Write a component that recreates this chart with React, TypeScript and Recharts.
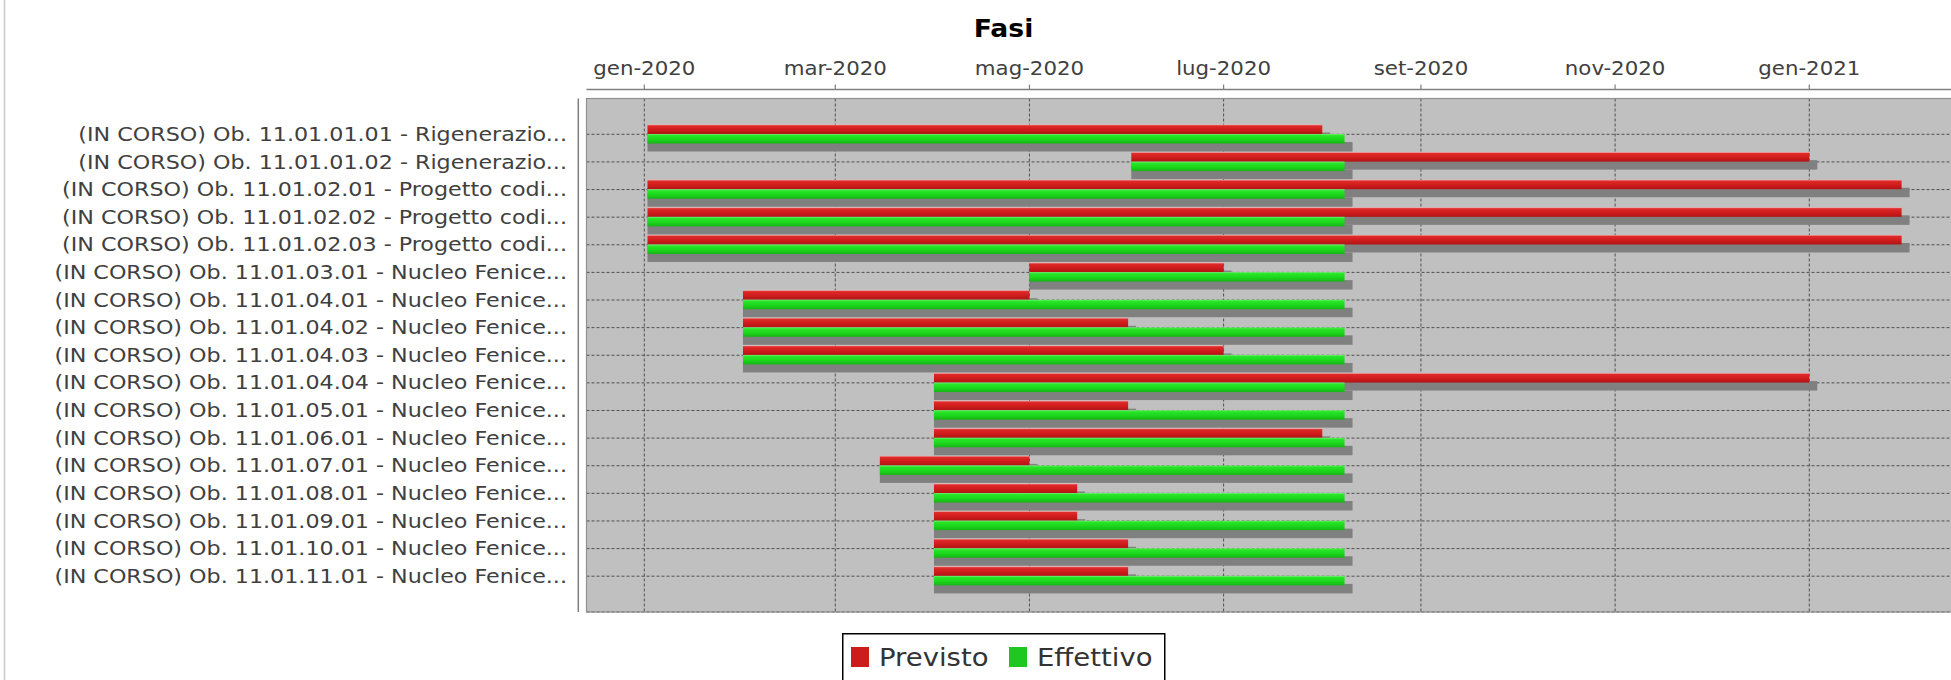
import React from 'react';
import { BarChart, Bar, XAxis, YAxis, CartesianGrid, Legend } from 'recharts';

const categories = [
  '(IN CORSO) Ob. 11.01.01.01 - Rigenerazio...',
  '(IN CORSO) Ob. 11.01.01.02 - Rigenerazio...',
  '(IN CORSO) Ob. 11.01.02.01 - Progetto codi...',
  '(IN CORSO) Ob. 11.01.02.02 - Progetto codi...',
  '(IN CORSO) Ob. 11.01.02.03 - Progetto codi...',
  '(IN CORSO) Ob. 11.01.03.01 - Nucleo Fenice...',
  '(IN CORSO) Ob. 11.01.04.01 - Nucleo Fenice...',
  '(IN CORSO) Ob. 11.01.04.02 - Nucleo Fenice...',
  '(IN CORSO) Ob. 11.01.04.03 - Nucleo Fenice...',
  '(IN CORSO) Ob. 11.01.04.04 - Nucleo Fenice...',
  '(IN CORSO) Ob. 11.01.05.01 - Nucleo Fenice...',
  '(IN CORSO) Ob. 11.01.06.01 - Nucleo Fenice...',
  '(IN CORSO) Ob. 11.01.07.01 - Nucleo Fenice...',
  '(IN CORSO) Ob. 11.01.08.01 - Nucleo Fenice...',
  '(IN CORSO) Ob. 11.01.09.01 - Nucleo Fenice...',
  '(IN CORSO) Ob. 11.01.10.01 - Nucleo Fenice...',
  '(IN CORSO) Ob. 11.01.11.01 - Nucleo Fenice...',
];

const previstoStart = [
  '2020-01-02', '2020-06-02', '2020-01-02', '2020-01-02', '2020-01-02', '2020-05-01',
  '2020-02-01', '2020-02-01', '2020-02-01', '2020-04-01', '2020-04-01', '2020-04-01',
  '2020-03-15', '2020-04-01', '2020-04-01', '2020-04-01', '2020-04-01',
];
const previstoEnd = [
  '2020-08-01', '2021-01-01', '2021-01-30', '2021-01-30', '2021-01-30', '2020-07-01',
  '2020-05-01', '2020-06-01', '2020-07-01', '2021-01-01', '2020-06-01', '2020-08-01',
  '2020-05-01', '2020-05-16', '2020-05-16', '2020-06-01', '2020-06-01',
];
const effettivoStart = [...previstoStart];
const effettivoEnd = [
  '2020-08-08', '2020-08-08', '2020-08-08', '2020-08-08', '2020-08-08', '2020-08-08',
  '2020-08-08', '2020-08-08', '2020-08-08', '2020-08-08', '2020-08-08', '2020-08-08',
  '2020-08-08', '2020-08-08', '2020-08-08', '2020-08-08', '2020-08-08',
];

const tickDates = ['2020-01-01', '2020-03-01', '2020-05-01', '2020-07-01', '2020-09-01', '2020-11-01', '2021-01-01'];
const tickLabels = ['gen-2020', 'mar-2020', 'mag-2020', 'lug-2020', 'set-2020', 'nov-2020', 'gen-2021'];

const seriesNames = ['Previsto', 'Effettivo'];
const seriesColors = ['#cc1c1c', '#1ec81e'];

const EPOCH = Date.UTC(2020, 0, 1);
const toDay = (s: string) => {
  const [y, m, d] = s.split('-').map(Number);
  return (Date.UTC(y, m - 1, d) - EPOCH) / 86400000;
};

const data = categories.map((name, i) => ({
  name,
  previsto: [toDay(previstoStart[i]), toDay(previstoEnd[i])],
  effettivo: [toDay(effettivoStart[i]), toDay(effettivoEnd[i])],
}));
const ticks = tickDates.map(toDay);
const tickLabelMap = new Map<number, string>(ticks.map((t, i) => [t, tickLabels[i]]));

const FONT = '"DejaVu Sans", sans-serif';
const PLOT_TOP = 98.5;
const PLOT_BOTTOM = 612;
const PLOT_LEFT = 586.5;

const makeShape = (gradId: string) => (props: any) => {
  const { x, y, width, height } = props;
  if (x == null || y == null || !width || !height) return <g />;
  return (
    <g>
      <rect x={x} y={y + 8} width={width + 8} height={height} fill="#808080" />
      <rect x={x} y={y} width={width} height={height} fill={`url(#${gradId})`} />
    </g>
  );
};

const XTick = (props: any) => {
  const { x, payload } = props;
  return (
    <g>
      <line x1={x} x2={x} y1={84.5} y2={89.5} stroke="#808080" strokeWidth={1.2} />
      <text
        transform={`translate(${x},74.5) scale(1.14,1)`}
        textAnchor="middle"
        fontFamily={FONT}
        fontSize={18.7}
        fill="#404040"
      >
        {tickLabelMap.get(payload.value) ?? ''}
      </text>
    </g>
  );
};

const YTick = (props: any) => {
  const { y, payload } = props;
  return (
    <text
      transform={`translate(567,${y + 6.6}) scale(1.17,1)`}
      textAnchor="end"
      fontFamily={FONT}
      fontSize={19}
      fill="#404040"
    >
      {payload.value}
    </text>
  );
};

const itemX = [[9, 37], [167, 195]];
const LegendContent = (props: any) => {
  const raw = props.payload && props.payload.length ? props.payload : [];
  const payload = seriesNames.map((n, i) => {
    const found = raw.find((p: any) => p.value === n);
    return { value: n, color: found ? found.color : seriesColors[i] };
  });
  return (
    <svg width={324} height={60} style={{ display: 'block' }}>
      <rect x={0.75} y={0.75} width={322} height={62} fill="#ffffff" stroke="#000000" strokeWidth={1.5} />
      {payload.map((p: any, i: number) => (
        <g key={i}>
          <rect x={itemX[i][0]} y={14} width={18} height={20} fill={p.color} />
          <text
            transform={`translate(${itemX[i][1]},33) scale(1.1,1)`}
            fontFamily={FONT}
            fontSize={25}
            fill="#333333"
          >
            {p.value}
          </text>
        </g>
      ))}
    </svg>
  );
};

export default function App() {
  return (
    <div style={{ position: 'fixed', left: 0, top: 0, width: 1951, height: 680, overflow: 'hidden', background: '#ffffff' }}>
      <BarChart
        width={2010}
        height={680}
        data={data}
        layout="vertical"
        margin={{ top: PLOT_TOP - 40, right: 10, bottom: 680 - PLOT_BOTTOM, left: PLOT_LEFT - 560 }}
        barGap={0}
        barSize={9.5}
      >
        <defs>
          <linearGradient id="gradRed" x1="0" y1="0" x2="0" y2="1">
            <stop offset="0" stopColor="#f2b4b4" />
            <stop offset="0.14" stopColor="#e02a2a" />
            <stop offset="0.55" stopColor="#d01c1c" />
            <stop offset="1" stopColor="#b01414" />
          </linearGradient>
          <linearGradient id="gradGreen" x1="0" y1="0" x2="0" y2="1">
            <stop offset="0" stopColor="#7aee7a" />
            <stop offset="0.16" stopColor="#2ae62a" />
            <stop offset="0.55" stopColor="#1cd81c" />
            <stop offset="1" stopColor="#16b416" />
          </linearGradient>
        </defs>
        <CartesianGrid
          fill="#c0c0c0"
          stroke="#505050"
          strokeDasharray="3 2"
          strokeWidth={1}
        />
        <XAxis
          type="number"
          orientation="top"
          height={40}
          domain={[-18.16, 425.92]}
          allowDataOverflow
          ticks={ticks}
          interval={0}
          axisLine={false}
          tickLine={false}
          tick={<XTick />}
        />
        <YAxis
          type="category"
          dataKey="name"
          width={560}
          interval={0}
          axisLine={false}
          tickLine={false}
          padding={{ top: 22, bottom: 22 }}
          tick={<YTick />}
        />
        <Legend
          layout="horizontal"
          verticalAlign="middle"
          align="center"
          itemSorter={null as any}
          content={<LegendContent />}
          wrapperStyle={{ position: 'absolute', left: 842, top: 633, width: 324, height: 60, margin: 0, padding: 0 }}
        />
        <Bar dataKey="previsto" name={seriesNames[0]} fill={seriesColors[0]} isAnimationActive={false} shape={makeShape('gradRed')} />
        <Bar dataKey="effettivo" name={seriesNames[1]} fill={seriesColors[1]} isAnimationActive={false} shape={makeShape('gradGreen')} />
      </BarChart>
      <svg width={1951} height={680} style={{ position: 'absolute', left: 0, top: 0, pointerEvents: 'none' }}>
        <line x1={4.5} x2={4.5} y1={0} y2={680} stroke="#c8c8c8" strokeWidth={1.5} />
        <text
          transform="translate(1003.5,37) scale(1.11,1)"
          textAnchor="middle"
          fontFamily={FONT}
          fontWeight="bold"
          fontSize={24}
          fill="#000000"
        >
          Fasi
        </text>
        <line x1={PLOT_LEFT} x2={1951} y1={89.5} y2={89.5} stroke="#808080" strokeWidth={1.5} />
        <line x1={578.3} x2={578.3} y1={PLOT_TOP} y2={PLOT_BOTTOM} stroke="#808080" strokeWidth={1.5} />
        <rect x={PLOT_LEFT} y={PLOT_TOP} width={1500} height={PLOT_BOTTOM - PLOT_TOP} fill="none" stroke="#909090" strokeWidth={1.2} />
      </svg>
    </div>
  );
}
